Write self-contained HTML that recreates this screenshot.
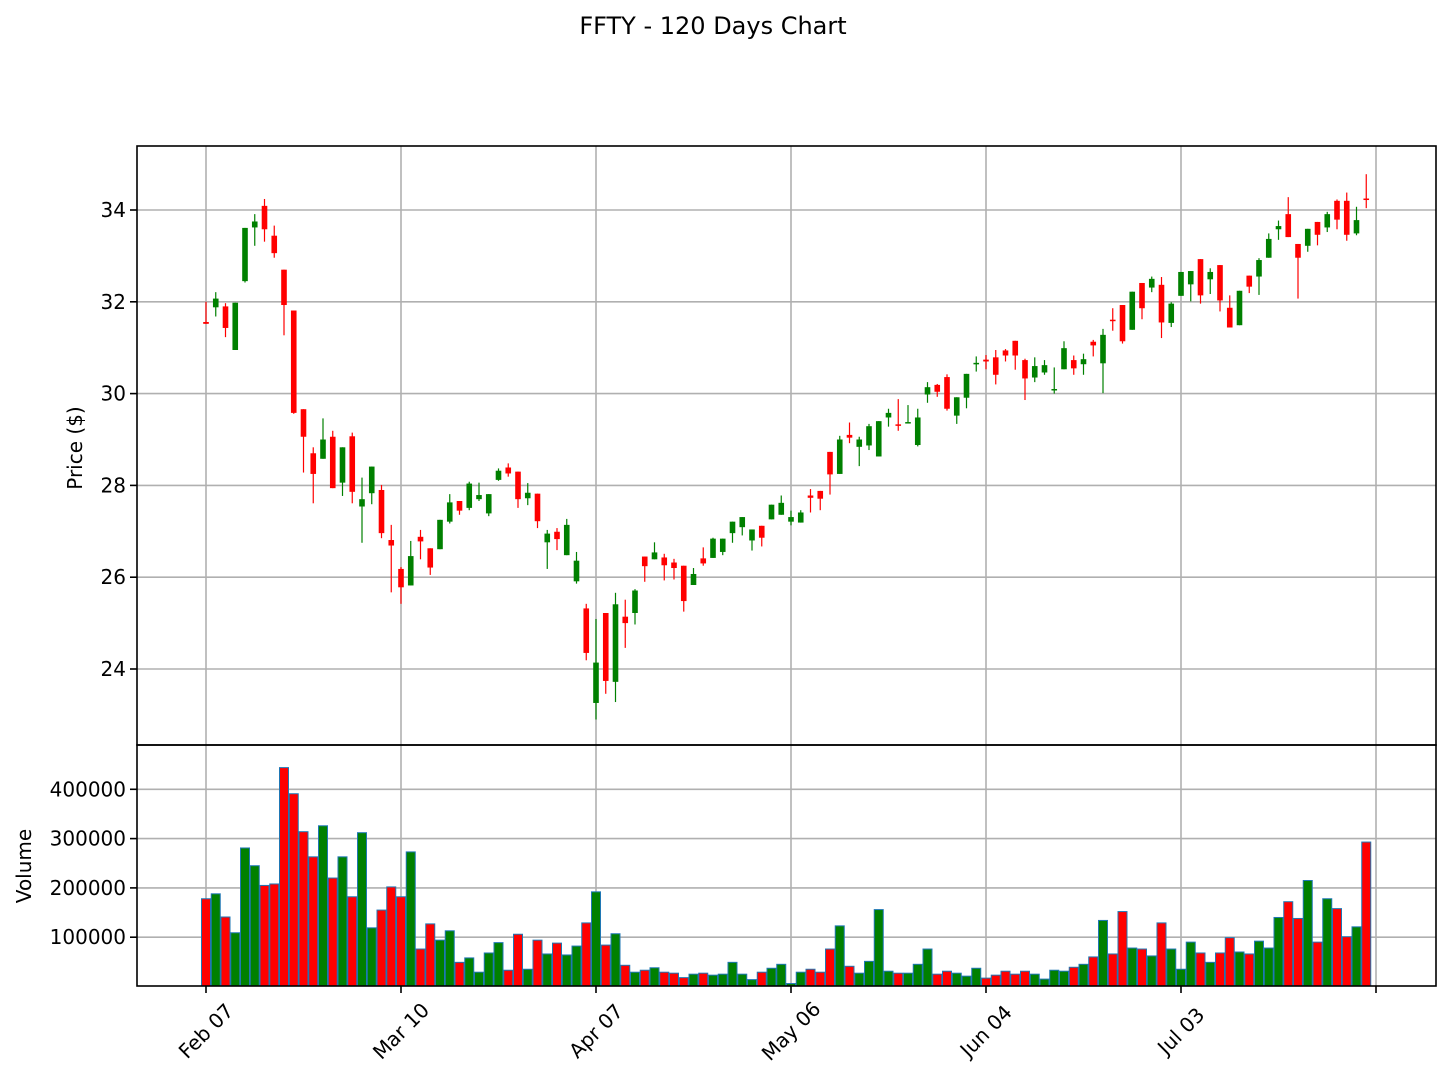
<!DOCTYPE html>
<html><head><meta charset="utf-8"><title>FFTY - 120 Days Chart</title>
<style>
html,body{margin:0;padding:0;background:#fff;}
svg{display:block;font-family:"DejaVu Sans","Liberation Sans",sans-serif;}
</style></head>
<body>
<svg id="chart" width="1448" height="1084" viewBox="0 0 1448 1084" xmlns="http://www.w3.org/2000/svg">
<rect width="1448" height="1084" fill="#fff"/>
<text x="713" y="34" font-size="24" text-anchor="middle" fill="#000">FFTY - 120 Days Chart</text>
<g id="grid"></g>
<g id="vol"></g>
<g id="candles"></g>
<g id="axes"></g>
<text x="82" y="448" font-size="20" text-anchor="middle" transform="rotate(-90 82 448)" fill="#000">Price ($)</text>
<text x="31" y="866" font-size="20" text-anchor="middle" transform="rotate(-90 31 866)" fill="#000">Volume</text>
</svg>
<script>
const opens=[31.56,31.88,31.90,30.95,32.45,33.62,34.09,33.44,32.70,31.81,29.66,28.70,28.58,29.06,28.06,29.07,27.54,27.83,27.90,26.81,26.18,25.82,26.88,26.63,26.61,27.21,27.66,27.51,27.70,27.39,28.12,28.39,28.30,27.72,27.82,26.76,26.99,26.48,25.91,25.32,23.26,25.22,23.72,25.14,25.22,26.45,26.39,26.43,26.32,26.25,25.83,26.41,26.42,26.55,26.96,27.09,26.80,27.12,27.26,27.36,27.21,27.19,27.78,27.88,28.73,28.25,29.10,28.84,28.87,28.63,29.48,29.33,29.35,28.88,29.98,30.19,30.36,29.52,29.91,30.64,30.74,30.79,30.94,31.15,30.73,30.35,30.46,30.07,30.53,30.73,30.64,31.13,30.66,31.61,31.93,31.39,32.41,32.31,32.37,31.54,32.13,32.38,32.93,32.49,32.80,31.87,31.49,32.57,32.55,32.96,33.58,33.91,33.26,33.22,33.74,33.62,34.20,34.20,33.49,34.25];
const closes=[31.52,32.07,31.43,31.98,33.61,33.75,33.58,33.06,31.93,29.58,29.06,28.25,29.00,27.94,28.83,27.86,27.70,28.41,26.96,26.69,25.78,26.46,26.78,26.21,27.25,27.63,27.45,28.04,27.79,27.81,28.32,28.26,27.70,27.84,27.22,26.95,26.83,27.14,26.36,24.35,24.14,23.74,25.41,25.00,25.71,26.24,26.54,26.26,26.20,25.48,26.07,26.30,26.84,26.84,27.21,27.31,27.04,26.86,27.58,27.62,27.31,27.41,27.73,27.71,28.24,29.00,29.04,29.00,29.29,29.40,29.58,29.30,29.38,29.48,30.14,30.04,29.67,29.92,30.43,30.67,30.70,30.41,30.83,30.83,30.33,30.60,30.62,30.10,30.99,30.55,30.75,31.05,31.28,31.59,31.14,32.22,31.86,32.50,31.55,31.96,32.65,32.67,32.14,32.65,32.03,31.44,32.24,32.33,32.91,33.37,33.65,33.41,32.96,33.59,33.46,33.91,33.79,33.46,33.78,34.23];
const highs=[32.0,32.21,31.97,31.98,33.61,33.91,34.24,33.66,32.70,31.81,29.66,28.83,29.46,29.19,28.83,29.15,28.17,28.41,28.01,27.14,26.22,26.79,27.03,26.63,27.25,27.81,27.66,28.08,28.06,27.81,28.37,28.48,28.30,28.05,27.82,27.03,27.07,27.27,26.55,25.42,25.09,25.22,25.66,25.51,25.74,26.45,26.76,26.51,26.40,26.25,26.20,26.65,26.86,26.84,27.21,27.31,27.04,27.12,27.58,27.78,27.45,27.46,27.92,27.88,28.73,29.08,29.37,29.06,29.34,29.40,29.67,29.88,29.75,29.67,30.25,30.21,30.42,29.92,30.43,30.81,30.84,30.95,30.97,31.15,30.76,30.79,30.73,30.57,31.14,30.83,30.87,31.17,31.41,31.86,31.93,32.22,32.41,32.55,32.54,31.99,32.65,32.67,32.93,32.73,32.80,32.14,32.24,32.57,32.95,33.49,33.77,34.28,33.26,33.59,33.74,33.96,34.23,34.38,34.07,34.78];
const lows=[31.52,31.68,31.23,30.95,32.42,33.22,33.31,32.96,31.27,29.56,28.28,27.61,28.58,27.94,27.77,27.61,26.75,27.59,26.85,25.67,25.42,25.82,26.39,26.05,26.61,27.17,27.36,27.46,27.66,27.33,28.10,28.19,27.51,27.57,27.07,26.18,26.59,26.48,25.86,24.19,22.90,23.46,23.28,24.46,24.97,25.90,26.39,25.93,25.95,25.25,25.83,26.25,26.42,26.48,26.75,26.91,26.58,26.67,27.26,27.36,27.13,27.19,27.41,27.46,27.80,28.25,28.92,28.42,28.77,28.63,29.28,29.19,29.35,28.85,29.80,29.93,29.63,29.34,29.68,30.48,30.53,30.20,30.70,30.52,29.86,30.25,30.41,30.00,30.53,30.41,30.41,30.81,30.01,31.37,31.09,31.39,31.62,32.21,31.21,31.45,32.13,32.01,31.96,32.17,31.79,31.44,31.49,32.19,32.15,32.96,33.35,33.41,32.07,33.09,33.23,33.52,33.58,33.33,33.45,34.04];
const volumes=[178000,188000,141000,109000,281000,245000,205000,208000,444000,391000,314000,263000,326000,220000,263000,182000,312000,119000,155000,202000,182000,273000,76000,127000,94000,113000,49000,58000,29000,68000,89000,33000,106000,35000,94000,66000,88000,64000,82000,129000,192000,84000,107000,43000,29000,33000,38000,29000,27000,18000,25000,27000,23000,25000,49000,25000,14000,29000,37000,45000,6000,29000,35000,29000,76000,123000,41000,27000,51000,156000,31000,27000,27000,45000,76000,25000,31000,27000,21000,37000,17000,23000,31000,25000,31000,25000,15000,33000,31000,39000,45000,60000,134000,66000,152000,78000,76000,62000,129000,76000,35000,90000,68000,49000,68000,99000,70000,66000,92000,78000,140000,172000,138000,215000,90000,178000,158000,101000,121000,293000];
const xTickIdx=[0,20,40,60,80,100,120];
const xTickLabels=["Feb 07","Mar 10","Apr 07","May 06","Jun 04","Jul 03",""];
const priceTicks=[24,26,28,30,32,34];
const volTicks=[100000,200000,300000,400000];

const NS="http://www.w3.org/2000/svg";
const L=137,R=1436,PT=146,PB=745,VT=745,VB=986;
function X(i){return 206+i*9.75;}
function YP(p){return 210+(34-p)*45.9;}
function YV(v){return 986.5-v*0.000493;}
function mk(parent,tag,attrs){const e=document.createElementNS(NS,tag);for(const k in attrs)e.setAttribute(k,attrs[k]);parent.appendChild(e);return e;}
const grid=document.getElementById('grid'),vol=document.getElementById('vol'),cg=document.getElementById('candles'),ax=document.getElementById('axes');
const GC="#b0b0b0";
// grids
xTickIdx.forEach(i=>{
  let g=mk(grid,'line',{x1:X(i),x2:X(i),y1:PT,y2:PB,stroke:GC,'stroke-width':1.6});
  
  
  let g2=mk(grid,'line',{x1:X(i),x2:X(i),y1:VT,y2:VB,stroke:GC,'stroke-width':1.6});
  
  
});
priceTicks.forEach(p=>{
  let g=mk(grid,'line',{x1:L,x2:R,y1:YP(p),y2:YP(p),stroke:GC,'stroke-width':1.6});
  
  
  let t=mk(ax,'line',{x1:L-7,x2:L,y1:YP(p),y2:YP(p),stroke:'#000','stroke-width':1.6});
  
  
  let lb=mk(ax,'text',{x:L-11,y:YP(p)+7,'font-size':20,'text-anchor':'end',fill:'#000'});
  lb.textContent=String(p);
  
  
});
volTicks.forEach(v=>{
  let g=mk(grid,'line',{x1:L,x2:R,y1:YV(v),y2:YV(v),stroke:GC,'stroke-width':1.6});
  
  
  let t=mk(ax,'line',{x1:L-7,x2:L,y1:YV(v),y2:YV(v),stroke:'#000','stroke-width':1.6});
  
  
  let lb=mk(ax,'text',{x:L-11,y:YV(v)+7,'font-size':20,'text-anchor':'end',fill:'#000'});
  lb.textContent=String(v);
  
  
});
// volume bars
volumes.forEach((v,i)=>{
  const up=closes[i]>=opens[i];
  const y=YV(v);
  let b=mk(vol,'rect',{x:X(i)-4.5,y:y,width:9,height:Math.max(0,VB-y),fill:up?'#008000':'#ff0000',stroke:'#1f77b4','stroke-width':1});
  
  
});
// candles
opens.forEach((o,i)=>{
  const c=closes[i],up=c>=o,col=up?'#008000':'#ff0000';
  let w=mk(cg,'line',{x1:X(i),x2:X(i),y1:YP(highs[i]),y2:YP(lows[i]),stroke:col,'stroke-width':1.2});
  
  
  const top=YP(Math.max(o,c)),bot=YP(Math.min(o,c));
  let b=mk(cg,'rect',{x:X(i)-2.8,y:top,width:5.6,height:Math.max(1.5,bot-top),fill:col});
  
  
});
// spines
let s1=mk(ax,'rect',{x:L,y:PT,width:R-L,height:PB-PT,fill:'none',stroke:'#000','stroke-width':1.6});


let s2=mk(ax,'rect',{x:L,y:VT,width:R-L,height:VB-VT,fill:'none',stroke:'#000','stroke-width':1.6});


xTickIdx.forEach((i,k)=>{
  let t=mk(ax,'line',{x1:X(i),x2:X(i),y1:VB,y2:VB+7,stroke:'#000','stroke-width':1.6});
  
  
  if(xTickLabels[k]){
    const cx=X(i),cy=1031;
    let lb=mk(ax,'text',{x:cx,y:cy,'font-size':20,'text-anchor':'middle','dominant-baseline':'central',transform:'rotate(-45 '+cx+' '+cy+')',fill:'#000'});
    lb.textContent=xTickLabels[k];
    
    
  }
});
</script>
</body></html>
